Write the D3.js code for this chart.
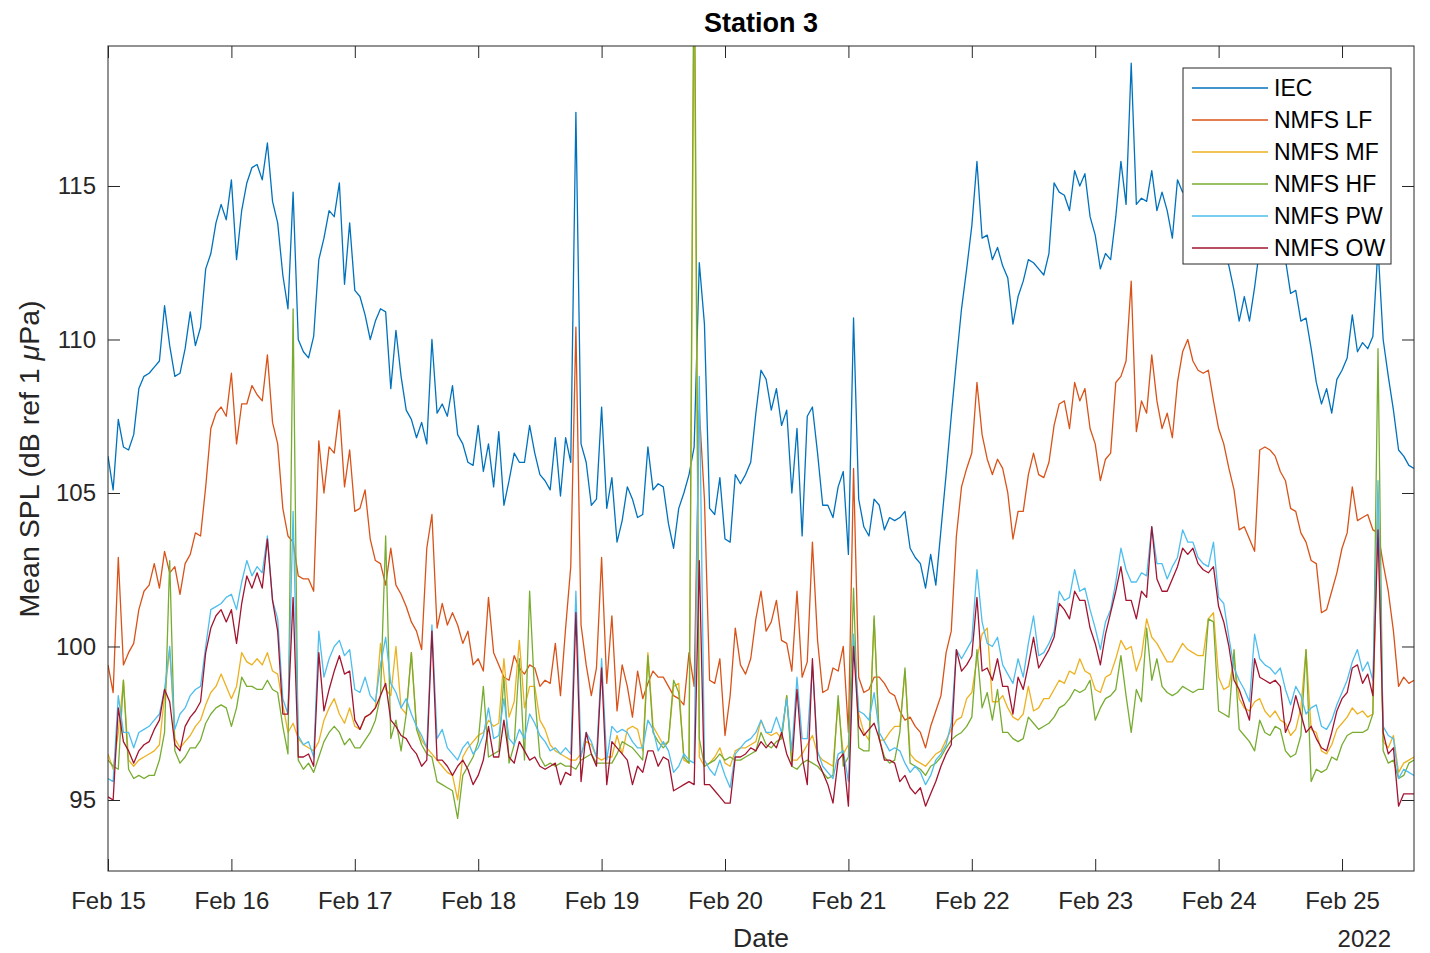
<!DOCTYPE html>
<html>
<head>
<meta charset="utf-8">
<script src="https://cdn.jsdelivr.net/npm/d3@7"></script>
<style>
  body { margin: 0; background: #fff; }
  svg { display: block; font-family: "Liberation Sans", Arial, Helvetica, sans-serif; }
</style>
</head>
<body>
<svg id="chart" width="1430" height="953"></svg>
<script>
// Hourly mean sound pressure levels at Station 3, starting Feb 15 2022 00:00
const startTime = new Date(2022, 1, 15, 0, 0);
const stepHours = 1;

const iec = [
  106.2,105.1,107.4,106.5,106.4,106.9,108.4,108.8,108.9,109.1,
  109.3,111.1,109.8,108.8,108.9,109.7,110.9,109.8,110.4,112.3,
  112.8,113.8,114.4,113.9,115.2,112.6,114.2,115.1,115.6,115.7,
  115.2,116.4,114.5,113.8,112.1,111.0,114.8,110.0,109.6,109.4,
  110.1,112.6,113.3,114.2,114.0,115.1,111.8,113.8,111.6,111.4,
  110.8,110.0,110.6,111.0,110.9,108.4,110.3,108.8,107.7,107.4,
  106.8,107.3,106.6,110.0,107.6,107.9,107.5,108.5,106.9,106.6,
  106.0,105.9,107.2,105.7,106.6,105.2,107.0,104.6,105.4,106.3,
  106.0,106.0,107.2,106.3,105.6,105.4,105.1,106.8,104.9,106.8,
  106.0,117.4,106.6,106.0,104.6,104.8,107.8,104.5,105.5,103.4,
  104.1,105.2,104.8,104.2,104.3,106.5,105.1,105.3,105.2,104.0,
  103.2,104.5,105.0,105.6,106.5,112.5,110.5,104.5,104.3,105.5,
  103.5,103.4,105.6,105.3,105.6,106.0,107.6,109.0,108.7,107.7,
  108.4,107.2,107.7,105.0,107.1,103.6,107.5,107.8,106.3,104.6,
  104.6,104.2,105.2,105.7,103.0,110.7,104.8,103.9,103.6,104.8,
  104.6,103.8,104.2,104.1,104.2,104.4,103.2,102.9,102.7,101.9,
  103.0,102.0,103.8,105.6,107.5,109.3,111.0,112.3,113.7,115.8,
  113.3,113.4,112.6,113.0,112.4,112.0,110.5,111.4,111.9,112.6,
  112.5,112.3,112.1,112.8,115.1,114.8,114.7,114.2,115.5,115.0,
  115.4,114.0,113.4,112.3,112.8,112.6,114.0,115.8,114.4,119.0,
  114.4,114.6,114.5,115.5,114.2,114.8,114.2,113.3,115.2,114.8,
  115.0,114.6,114.9,114.4,114.0,113.8,113.4,113.0,112.4,111.6,
  110.6,111.4,110.6,111.7,113.0,114.0,114.3,114.0,113.6,112.6,
  111.5,111.6,110.6,110.7,109.7,108.6,107.9,108.4,107.6,108.7,
  109.0,109.4,110.8,109.6,109.9,109.7,110.1,113.0,110.0,108.8,
  107.7,106.4,106.2,105.9,105.8];

const nmfsLF = [
  99.4,98.5,102.9,99.4,99.8,100.1,101.2,101.8,102.0,102.7,
  101.9,103.1,102.4,102.6,101.7,102.7,103.0,103.7,103.6,105.2,
  107.1,107.6,107.8,107.5,108.9,106.6,107.9,107.9,108.5,108.2,
  108.0,109.5,107.3,106.6,104.5,103.6,103.4,102.3,102.2,102.2,
  101.8,106.7,105.0,106.5,106.3,107.7,105.2,106.4,104.4,104.5,
  105.1,103.5,102.8,102.7,102.0,103.2,102.0,101.7,101.3,100.8,
  100.5,99.9,103.2,104.3,100.6,101.4,100.7,101.1,100.7,100.1,
  100.5,99.4,99.6,99.2,101.6,99.8,99.4,99.0,98.9,99.7,
  99.3,99.1,99.4,99.3,98.7,98.9,98.8,100.1,98.4,100.6,
  102.6,110.4,100.7,99.4,98.4,99.3,102.9,98.8,101.0,97.9,
  99.4,98.7,97.7,99.2,98.3,98.8,99.2,99.0,99.0,98.7,
  98.4,98.3,98.1,99.8,98.7,107.7,104.8,98.9,98.8,99.6,
  97.1,98.4,100.6,99.4,99.1,99.6,100.9,101.8,100.5,100.8,
  101.5,100.2,100.1,99.2,101.8,99.0,99.5,103.4,100.2,98.5,
  98.6,99.3,99.2,100.0,97.2,105.8,99.0,98.5,98.6,99.0,
  99.0,98.8,98.5,98.4,97.9,97.6,97.7,97.4,97.2,96.7,
  97.4,97.9,98.4,99.8,100.5,103.6,105.2,105.8,106.3,108.6,
  106.9,106.1,105.6,106.1,105.8,105.0,103.5,104.4,104.4,105.6,
  106.3,105.6,105.5,106.0,107.2,107.9,108.0,107.1,108.6,108.0,
  108.4,107.1,106.6,105.4,106.1,106.3,108.6,108.8,109.3,111.9,
  107.0,108.0,107.6,109.5,108.0,107.1,107.6,106.8,108.6,109.6,
  110.0,109.3,109.0,108.9,109.0,108.0,107.1,106.6,105.8,105.1,
  103.8,103.9,103.5,103.1,106.4,106.5,106.4,106.2,105.7,105.4,
  104.5,104.4,103.7,103.4,102.8,102.7,101.1,101.2,101.8,102.4,
  103.2,103.7,105.2,104.1,104.2,104.3,103.8,103.7,102.7,101.8,
  100.5,98.7,99.0,98.8,98.9];

const nmfsMF = [
  96.5,96.0,97.2,98.9,96.3,96.1,96.3,96.4,96.5,96.6,
  96.8,98.4,99.9,97.0,96.7,96.9,97.1,97.4,97.6,98.1,
  98.5,98.7,99.1,98.7,98.3,98.7,99.8,99.5,99.4,99.6,
  99.4,99.8,99.2,99.1,98.1,97.2,97.5,97.0,96.8,96.7,
  96.6,96.9,97.6,98.0,98.3,97.8,97.5,98.0,97.4,97.3,
  97.7,97.8,98.0,100.1,98.6,98.4,100.0,98.0,97.8,99.8,
  97.4,96.95,96.7,96.5,96.3,96.1,95.9,95.8,95.0,96.4,
  96.7,96.9,97.1,97.2,97.6,97.4,97.5,99.6,97.7,98.2,
  100.2,98.0,98.7,98.7,97.6,97.3,96.8,96.6,96.5,96.4,
  96.3,96.3,96.5,96.9,96.8,96.4,96.3,96.4,96.4,97.1,
  96.5,97.3,97.4,97.3,96.6,99.8,97.4,97.1,96.8,96.9,
  98.7,98.8,96.3,96.2,122.0,96.4,96.1,96.2,96.4,96.7,
  96.2,96.1,96.6,96.7,96.7,96.8,96.9,97.6,97.2,97.1,
  97.2,97.0,98.4,96.3,96.3,96.5,96.8,97.1,96.5,96.3,
  96.2,96.1,98.2,96.5,96.8,100.2,97.8,97.2,96.95,100.9,
  96.95,96.95,97.2,97.4,97.4,99.2,96.5,96.3,96.2,96.1,
  96.3,96.5,96.6,96.95,97.3,97.6,97.7,98.3,98.5,99.6,
  100.4,100.6,98.2,98.2,98.4,98.0,97.7,97.6,97.8,98.7,
  97.9,98.0,98.3,98.3,98.6,98.9,98.8,99.2,99.1,99.6,
  99.2,99.1,98.6,98.5,99.0,99.1,99.6,100.2,99.9,100.0,
  99.2,99.7,100.9,100.3,100.1,99.8,99.5,99.5,99.8,100.1,
  99.9,99.8,99.7,99.7,100.9,101.1,99.0,98.6,98.7,99.6,
  98.3,98.0,97.9,98.2,98.3,97.9,97.7,97.9,97.6,97.5,
  97.1,97.3,98.0,99.9,97.3,97.2,96.6,96.5,96.8,97.3,
  97.5,97.7,98.0,97.8,97.9,97.7,97.8,104.5,96.9,96.7,
  97.1,95.9,96.2,96.3,96.4];

const nmfsHF = [
  96.3,96.1,96.0,98.9,96.0,95.7,95.8,95.7,95.8,95.8,
  96.3,97.2,102.8,96.6,96.2,96.4,96.7,96.7,96.95,97.5,
  97.8,98.0,98.1,98.0,97.4,98.0,99.0,98.7,98.7,98.6,
  98.6,98.9,98.6,98.5,97.4,96.5,111.0,96.3,96.0,96.2,
  95.9,96.4,96.9,97.2,97.4,97.2,96.8,97.0,96.7,96.7,
  96.95,97.2,97.6,98.4,103.6,97.0,97.6,96.6,97.8,99.8,
  97.3,96.8,96.5,96.4,95.6,95.5,95.4,95.3,94.4,95.8,
  96.1,96.4,96.9,98.7,96.4,96.5,96.6,99.0,96.2,96.8,
  99.6,96.3,101.8,98.4,96.4,96.1,96.2,96.1,96.2,96.1,
  96.1,96.0,96.3,96.4,96.5,96.2,96.2,96.2,96.2,96.5,
  96.9,96.8,96.7,96.5,96.3,99.7,97.2,96.9,96.7,96.9,
  98.9,98.5,96.4,96.2,124.0,97.0,96.1,96.2,96.3,96.5,
  96.3,96.4,96.3,96.3,96.4,96.5,96.6,97.2,96.8,96.7,
  96.9,97.0,98.4,96.1,96.0,96.2,96.3,96.2,96.1,95.9,
  95.7,95.8,98.4,96.1,96.4,101.9,96.7,96.6,96.6,101.0,
  97.0,96.4,96.2,96.3,97.2,99.3,96.2,96.1,96.0,95.8,
  96.1,96.2,96.4,96.7,96.95,97.1,97.2,97.4,97.7,99.9,
  98.0,98.5,97.6,98.6,97.2,97.2,97.0,96.9,97.0,97.7,
  97.5,97.3,97.4,97.5,97.7,98.0,98.1,98.3,98.6,98.5,
  98.6,98.9,97.6,98.0,98.3,98.4,98.6,99.7,98.4,97.2,
  98.6,98.2,100.6,98.9,99.6,98.7,98.5,98.4,98.5,98.7,
  98.6,98.5,98.6,98.6,100.9,100.8,97.9,97.8,97.7,99.9,
  97.3,97.1,96.9,96.6,97.6,97.2,97.1,97.4,97.3,96.6,
  96.4,96.5,97.1,99.9,95.6,96.0,95.9,96.0,96.4,96.3,
  96.8,97.1,97.2,97.2,97.2,97.3,97.8,109.7,96.6,96.2,
  96.3,95.7,95.8,96.2,96.3];

const nmfsPW = [
  95.7,95.6,98.4,97.2,97.2,96.7,97.2,97.3,97.4,97.6,
  97.8,98.6,100.0,97.3,97.8,98.0,98.4,98.6,98.7,100.0,
  101.2,101.3,101.4,101.6,101.7,101.2,102.1,102.8,102.3,102.6,
  102.4,103.6,101.5,100.9,98.3,97.8,104.4,97.1,96.8,96.9,
  96.4,100.5,99.0,99.6,100.0,100.2,99.7,99.9,98.6,98.5,
  99.0,98.4,98.2,99.4,100.3,98.8,98.5,98.0,98.3,97.8,
  97.4,97.1,96.7,100.7,97.0,97.3,96.7,96.5,96.3,96.7,
  96.9,96.5,96.7,97.1,98.0,97.0,97.1,98.3,97.0,96.8,
  97.3,97.0,97.8,97.5,97.1,96.9,96.6,96.7,96.5,96.7,
  96.5,101.8,96.4,97.2,96.9,96.4,99.6,96.3,97.4,97.2,
  97.3,97.2,96.9,96.7,96.7,97.6,97.3,96.6,96.9,96.6,
  95.9,96.1,96.5,96.3,96.2,108.8,96.3,96.0,95.8,96.3,
  95.8,95.4,96.5,96.7,96.9,97.0,97.2,97.6,97.2,97.2,
  97.7,97.2,98.3,96.6,99.0,97.0,97.0,99.4,96.6,96.1,
  95.9,95.7,96.5,96.6,95.6,100.4,97.9,97.8,97.6,98.5,
  97.2,96.9,96.6,96.7,96.6,96.2,95.9,96.1,95.9,95.5,
  95.8,96.3,96.5,96.8,97.5,99.9,99.6,99.9,100.2,102.5,
  100.8,100.1,100.0,100.3,99.4,99.1,98.8,99.6,99.0,100.1,
  101.0,99.7,99.8,100.1,100.5,101.8,101.5,101.6,102.5,101.8,
  101.9,101.2,100.6,99.9,100.8,101.2,102.1,103.2,102.5,102.1,
  102.1,102.4,102.3,103.9,102.7,102.7,102.2,102.6,102.9,103.8,
  103.4,103.4,102.9,102.7,102.6,103.4,101.6,101.4,100.3,99.3,
  98.9,98.6,98.2,100.4,99.6,99.4,99.3,99.1,99.3,98.6,
  98.1,98.7,98.4,97.8,98.0,98.1,97.4,97.3,97.6,98.1,
  98.5,98.9,99.5,99.9,99.2,99.5,98.9,105.4,97.4,97.1,
  97.0,95.7,96.0,95.9,95.8];

const nmfsOW = [
  95.1,95.0,98.0,96.9,96.6,96.2,96.6,96.8,96.9,97.3,
  97.6,98.6,98.2,96.8,96.6,97.4,97.7,97.9,98.2,99.8,
  100.6,101.0,101.2,100.8,101.2,100.1,101.4,102.3,101.9,102.4,
  101.9,103.5,101.5,100.5,97.8,97.8,101.6,96.4,96.4,96.5,
  96.1,99.8,97.9,98.6,99.2,99.7,99.1,99.2,97.6,97.3,
  97.7,97.8,98.0,98.4,98.8,97.6,97.4,97.1,97.0,96.7,
  96.5,96.1,96.3,100.5,96.3,96.3,96.1,95.8,96.1,96.3,
  96.0,95.5,95.8,96.3,97.4,96.4,96.4,97.6,96.4,96.2,
  96.9,96.6,96.3,96.4,96.1,96.0,96.1,96.2,95.5,95.9,
  95.8,101.1,95.6,97.2,96.5,96.1,99.3,95.5,96.9,96.7,
  96.5,96.3,95.5,96.1,95.9,96.6,96.6,96.1,96.4,96.3,
  95.3,95.4,95.5,95.6,95.5,102.8,95.5,95.5,95.3,95.1,
  94.9,94.9,96.4,96.4,96.5,96.7,96.6,96.9,96.7,96.9,
  96.7,97.2,96.5,96.1,98.6,96.4,95.5,99.6,96.3,95.9,
  95.5,94.9,96.3,96.5,94.8,100.0,97.4,97.1,97.3,97.5,
  97.0,96.3,96.3,96.2,95.6,95.8,95.4,95.2,95.4,94.8,
  95.2,95.6,96.1,96.5,96.8,99.9,99.2,99.4,99.7,101.6,
  99.2,99.3,98.9,99.6,98.7,98.7,97.8,99.0,98.6,99.4,
  100.3,99.3,99.6,99.9,100.3,101.4,101.2,100.9,101.8,101.5,
  101.5,100.6,100.1,99.4,100.4,101.1,101.8,102.6,101.5,101.5,
  100.9,101.8,101.6,103.9,102.2,101.8,101.8,102.2,102.6,103.2,
  103.0,103.2,102.7,102.5,102.4,102.6,101.3,100.8,100.0,98.9,
  98.6,98.1,97.6,99.6,99.0,98.9,98.8,98.9,98.7,97.2,
  97.6,98.4,97.8,97.2,97.4,97.0,96.7,96.6,97.2,97.9,
  98.3,98.5,99.3,99.4,98.8,99.1,98.4,103.8,97.2,96.5,
  96.7,94.8,95.2,95.2,95.2];

const seriesNames = ["IEC", "NMFS LF", "NMFS MF", "NMFS HF", "NMFS PW", "NMFS OW"];
const seriesValues = [iec, nmfsLF, nmfsMF, nmfsHF, nmfsPW, nmfsOW];
const seriesColors = ["#0072BD", "#D95319", "#EDB120", "#77AC30", "#4DBEEE", "#A2142F"];
const yTickValues = [95, 100, 105, 110, 115];
const titleText = "Station 3";
const xTitleText = "Date";
const yearText = "2022";

const timeAt = i => d3.timeHour.offset(startTime, i * stepHours);
const endTime = timeAt(iec.length - 1);

const svg = d3.select("#chart");
const plot = { left: 108, right: 1414, top: 46, bottom: 871 };
const axisColor = "#262626";

const x = d3.scaleTime().domain([startTime, endTime]).range([plot.left, plot.right]);
const y = d3.scaleLinear().domain([92.687, 119.56]).range([plot.bottom, plot.top]);

svg.append("defs").append("clipPath").attr("id", "plotClip")
  .append("rect")
  .attr("x", plot.left).attr("y", plot.top)
  .attr("width", plot.right - plot.left).attr("height", plot.bottom - plot.top);

// series lines, drawn in legend order so later series sit on top
const line = d3.line()
  .x((d, i) => x(timeAt(i)))
  .y(d => y(d));

const lines = svg.append("g").attr("clip-path", "url(#plotClip)");
seriesValues.forEach((vals, k) => {
  lines.append("path")
    .datum(vals)
    .attr("fill", "none")
    .attr("stroke", seriesColors[k])
    .attr("stroke-width", 1.3)
    .attr("stroke-linejoin", "round")
    .attr("d", line);
});

// axes with inward ticks on all four sides
function styleAxis(g, fontSize) {
  g.select(".domain").remove();
  g.selectAll(".tick line").attr("stroke", axisColor).attr("stroke-width", 1);
  g.selectAll(".tick text").attr("fill", axisColor).attr("font-size", fontSize)
    .attr("font-family", "\"Liberation Sans\", Arial, Helvetica, sans-serif");
}

const dayTicks = d3.timeDay.every(1);
svg.append("g")
  .attr("transform", `translate(0,${plot.bottom})`)
  .call(d3.axisBottom(x).ticks(dayTicks).tickFormat(d3.timeFormat("%b %d"))
    .tickSizeInner(-12).tickSizeOuter(0).tickPadding(21))
  .call(g => styleAxis(g, 24));

svg.append("g")
  .attr("transform", `translate(0,${plot.top})`)
  .call(d3.axisTop(x).ticks(dayTicks).tickFormat("")
    .tickSizeInner(-12).tickSizeOuter(0))
  .call(g => styleAxis(g, 24));

svg.append("g")
  .attr("transform", `translate(${plot.left},0)`)
  .call(d3.axisLeft(y).tickValues(yTickValues).tickFormat(d3.format("d"))
    .tickSizeInner(-12).tickSizeOuter(0).tickPadding(12))
  .call(g => styleAxis(g, 24));

svg.append("g")
  .attr("transform", `translate(${plot.right},0)`)
  .call(d3.axisRight(y).tickValues(yTickValues).tickFormat("")
    .tickSizeInner(-12).tickSizeOuter(0))
  .call(g => styleAxis(g, 24));

svg.append("rect")
  .attr("x", plot.left).attr("y", plot.top)
  .attr("width", plot.right - plot.left).attr("height", plot.bottom - plot.top)
  .attr("fill", "none").attr("stroke", axisColor).attr("stroke-width", 1);

// titles
svg.append("text")
  .attr("x", (plot.left + plot.right) / 2).attr("y", 32)
  .attr("text-anchor", "middle").attr("font-weight", "bold")
  .attr("font-size", 27).attr("fill", "#000")
  .text(titleText);

svg.append("text")
  .attr("x", (plot.left + plot.right) / 2).attr("y", 947)
  .attr("text-anchor", "middle").attr("font-size", 26.5).attr("fill", axisColor)
  .text(xTitleText);

svg.append("text")
  .attr("x", 1391).attr("y", 947)
  .attr("text-anchor", "end").attr("font-size", 24).attr("fill", axisColor)
  .text(yearText);

const yTitle = svg.append("text")
  .attr("transform", `translate(39,459) rotate(-90)`)
  .attr("text-anchor", "middle").attr("font-size", 28.5).attr("fill", axisColor);
yTitle.append("tspan").text("Mean SPL (dB ref 1 ");
yTitle.append("tspan").attr("font-style", "italic").text("μ");
yTitle.append("tspan").text("Pa)");

// legend
const legend = { x: 1183, y: 68, w: 208, h: 196, first: 88, gap: 32 };
const lg = svg.append("g");
lg.append("rect")
  .attr("x", legend.x).attr("y", legend.y)
  .attr("width", legend.w).attr("height", legend.h)
  .attr("fill", "#fff").attr("stroke", axisColor).attr("stroke-width", 1);
seriesNames.forEach((name, k) => {
  const yy = legend.first + k * legend.gap;
  lg.append("line")
    .attr("x1", 1192).attr("x2", 1268).attr("y1", yy).attr("y2", yy)
    .attr("stroke", seriesColors[k]).attr("stroke-width", 1.3);
  lg.append("text")
    .attr("x", 1274).attr("y", yy).attr("dy", "0.36em")
    .attr("font-size", 23).attr("fill", "#000")
    .text(name);
});
</script>
</body>
</html>
